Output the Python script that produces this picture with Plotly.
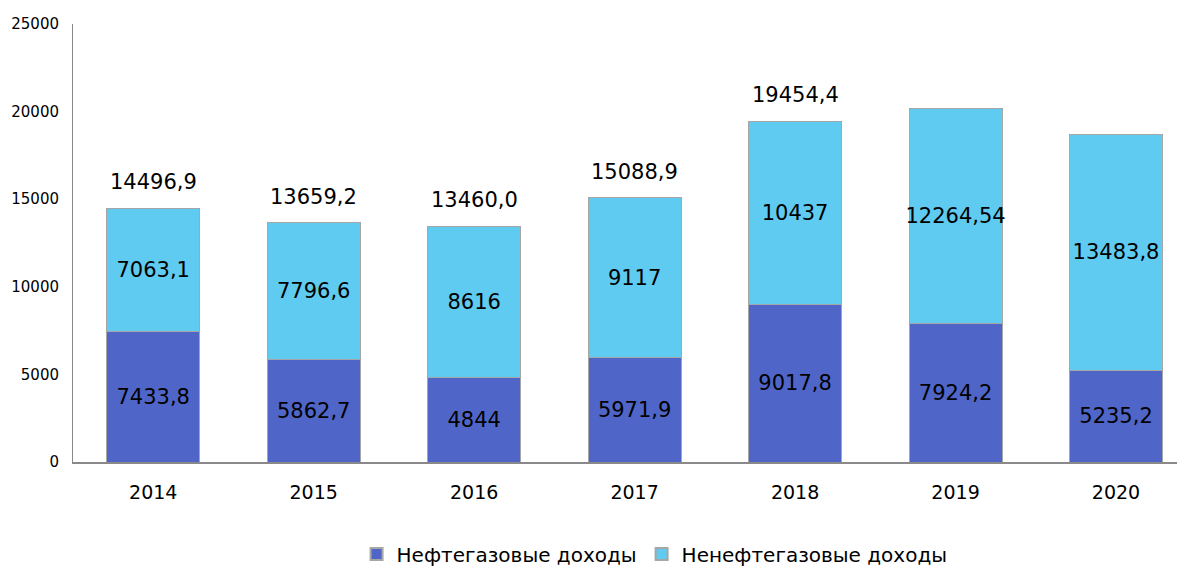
import plotly.graph_objects as go

years = ["2014", "2015", "2016", "2017", "2018", "2019", "2020"]
oil_gas = [7433.8, 5862.7, 4844, 5971.9, 9017.8, 7924.2, 5235.2]
non_oil_gas = [7063.1, 7796.6, 8616, 9117, 10437, 12264.54, 13483.8]
oil_gas_labels = ["7433,8", "5862,7", "4844", "5971,9", "9017,8", "7924,2", "5235,2"]
non_oil_gas_labels = ["7063,1", "7796,6", "8616", "9117", "10437", "12264,54", "13483,8"]
total_years = ["2014", "2015", "2016", "2017", "2018"]
totals = [14496.9, 13659.2, 13460.0, 15088.9, 19454.4]
total_labels = ["14496,9", "13659,2", "13460,0", "15088,9", "19454,4"]

FONT = "DejaVu Sans"
line_style = dict(color="#a6a6a6", width=1)

fig = go.Figure()
fig.add_trace(go.Bar(
    x=years, y=oil_gas, name="Нефтегазовые доходы",
    marker=dict(color="#4F66C8", line=line_style),
    text=oil_gas_labels, textposition="inside", insidetextanchor="middle",
    textfont=dict(family=FONT, size=21, color="black"), textangle=0,
    hoverinfo="skip",
))
fig.add_trace(go.Bar(
    x=years, y=non_oil_gas, name="Ненефтегазовые доходы",
    marker=dict(color="#5FCBF1", line=line_style),
    text=non_oil_gas_labels, textposition="inside", insidetextanchor="middle",
    textfont=dict(family=FONT, size=21, color="black"), textangle=0,
    hoverinfo="skip",
))

for yr, tot, lab in zip(total_years, totals, total_labels):
    fig.add_annotation(x=years.index(yr), y=tot, text=lab, showarrow=False,
                       xref="x", yref="y",
                       yanchor="bottom", yshift=12,
                       font=dict(family=FONT, size=21, color="black"))

fig.update_layout(
    barmode="stack",
    bargap=0.42,
    width=1177, height=560,
    margin=dict(l=65, r=0, t=16, b=106, autoexpand=False),
    plot_bgcolor="white", paper_bgcolor="white",
    font=dict(family=FONT, color="black"),
    uniformtext=dict(minsize=21, mode="show"),
    legend=dict(orientation="h", x=0.523, xanchor="center",
                yref="container", y=0.025, yanchor="middle",
                font=dict(family=FONT, size=20, color="black"),
                itemsizing="constant", traceorder="normal"),
    showlegend=True,
)
fig.update_xaxes(
    type="category", range=[-0.5, 6.43], automargin=False,
    showline=True, linecolor="#898989", linewidth=1.5,
    ticks="", ticklabelstandoff=12,
    tickfont=dict(family=FONT, size=19, color="black"),
    showgrid=False, zeroline=False,
)
fig.update_yaxes(
    range=[0, 25000], dtick=5000, tickformat="d", automargin=False,
    showline=True, linecolor="#898989", linewidth=1,
    ticks="", ticklabelstandoff=10,
    tickfont=dict(family=FONT, size=15, color="black"),
    showgrid=False, zeroline=False,
)

fig.write_html("out.html")
